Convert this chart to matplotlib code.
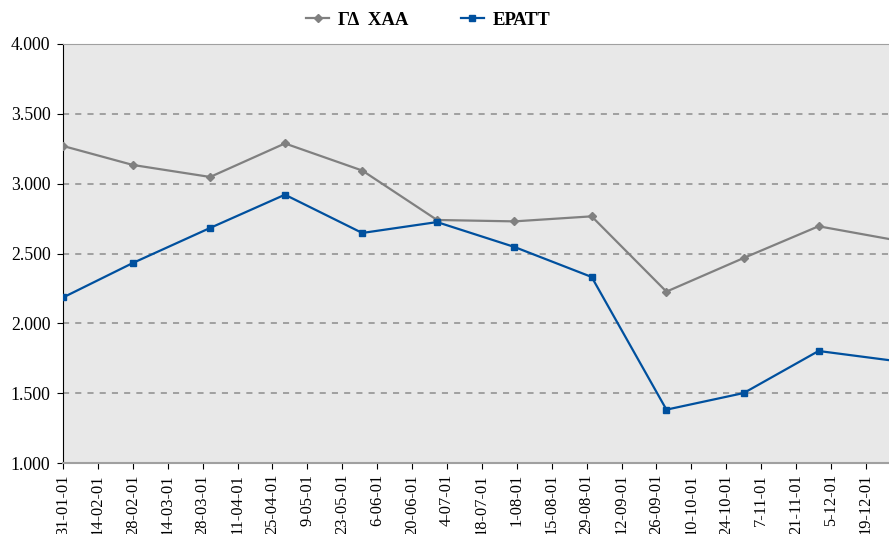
import matplotlib
matplotlib.use('Agg')
import matplotlib.pyplot as plt
import matplotlib.dates as mdates
from matplotlib.ticker import FuncFormatter
import pandas as pd

# month-end observations, 2001
dates = ['2001-01-31', '2001-02-28', '2001-03-31', '2001-04-30', '2001-05-31', '2001-06-30',
         '2001-07-31', '2001-08-31', '2001-09-30', '2001-10-31', '2001-11-30', '2001-12-31']
gd_xaa = [3270, 3134, 3048, 3288, 3094, 2740, 2730, 2766, 2227, 2468, 2695, 2595]
epatt = [2185, 2432, 2683, 2921, 2647, 2725, 2547, 2332, 1382, 1501, 1802, 1730]
labels = ['ΓΔ  ΧΑΑ', 'ΕΡΑΤΤ']

x = pd.to_datetime(dates)

plt.rcParams['font.family'] = ['Liberation Serif', 'DejaVu Serif']

fig = plt.figure(figsize=(8.89, 5.34), dpi=100)
ax = fig.add_axes([63 / 889, 1 - 463 / 534, 1 - 63 / 889, (463 - 44) / 534])
ax.set_facecolor('#E8E8E8')

ax.plot(x, gd_xaa, color='#808080', lw=1.6, marker='D', ms=4.5, label=labels[0], zorder=3)
ax.plot(x, epatt, color='#00509E', lw=1.6, marker='s', ms=5, label=labels[1], zorder=3)

ax.set_ylim(1000, 4000)
ax.set_yticks(range(1000, 4001, 500))
ax.yaxis.set_major_formatter(FuncFormatter(lambda v, p: f"{int(v):,}".replace(',', '.')))
for yv in range(1500, 4000, 500):
    ax.axhline(yv, color='#8C8C8C', lw=1.1, ls=(0, (4, 4)), zorder=1)

ax.set_xlim(pd.Timestamp('2001-01-31'), pd.Timestamp('2001-12-28 06:00'))
ticks = pd.date_range('2001-01-31', '2001-12-31', freq='14D')
ax.set_xticks(ticks)
ax.xaxis.set_major_formatter(FuncFormatter(
    lambda v, p: (lambda d: f"{d.day}-{d.month:02d}-{d.year % 100:02d}")(mdates.num2date(v))))
plt.setp(ax.get_xticklabels(), rotation=90)

ax.tick_params(axis='both', direction='out', length=4, color='black')
ax.tick_params(axis='x', labelsize=11.8, pad=4)
ax.tick_params(axis='y', labelsize=12.8, pad=5)

ax.spines['left'].set_color('black')
ax.spines['bottom'].set_color('#A0A0A0')
ax.spines['bottom'].set_linewidth(1.5)
ax.spines['top'].set_color('#A0A0A0')
ax.spines['right'].set_visible(False)

fig.legend(loc='center', bbox_to_anchor=(0.482, 1 - 20 / 534), ncol=2, frameon=False,
           prop={'weight': 'bold', 'size': 13.5}, columnspacing=2.8, handlelength=1.2,
           handletextpad=0.5)

fig.savefig('out.png', dpi=100)
